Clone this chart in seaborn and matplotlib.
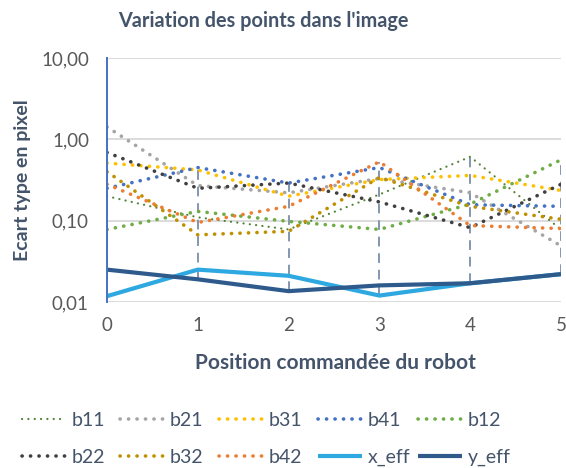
import numpy as np
import pandas as pd
import matplotlib
matplotlib.use("Agg")
import matplotlib.pyplot as plt
from matplotlib.lines import Line2D
from matplotlib.ticker import FixedLocator, FixedFormatter, NullLocator
import seaborn as sns

# Positions commandées du robot
positions = [0, 1, 2, 3, 4, 5]

# Ecart type (pixel) par point suivi
b11 = [0.20, 0.11, 0.078, 0.21, 0.61, 0.078]
b21 = [1.42, 0.27, 0.22, 0.33, 0.22, 0.049]
b31 = [0.51, 0.42, 0.20, 0.32, 0.36, 0.235]
b41 = [0.25, 0.45, 0.29, 0.45, 0.157, 0.15]
b12 = [0.078, 0.13, 0.098, 0.078, 0.16, 0.56]
b22 = [0.69, 0.25, 0.29, 0.17, 0.082, 0.28]
b32 = [0.40, 0.067, 0.074, 0.34, 0.15, 0.104]
b42 = [0.28, 0.095, 0.15, 0.53, 0.087, 0.08]
x_eff = [0.0118, 0.025, 0.021, 0.012, 0.017, 0.022]
y_eff = [0.025, 0.019, 0.0136, 0.016, 0.017, 0.022]

series_names = ["b11", "b21", "b31", "b41", "b12", "b22", "b32", "b42", "x_eff", "y_eff"]
series_values = [b11, b21, b31, b41, b12, b22, b32, b42, x_eff, y_eff]

y_ticks = [0.01, 0.1, 1, 10]
y_tick_labels = ["0,01", "0,10", "1,00", "10,00"]

title = "Variation des points dans l'image"
x_label = "Position commandée du robot"
y_label = "Ecart type en pixel"

df = pd.DataFrame(
    [(n, p, v) for n, vals in zip(series_names, series_values) for p, v in zip(positions, vals)],
    columns=["serie", "position", "ecart"],
)

sns.set_theme(style="white")
plt.rcParams["font.family"] = ["Lato", "DejaVu Sans"]

text_col = "#44546A"
tick_col = "#595959"

dot = dict(linewidth=2.6, linestyle=(0, (0.05, 2.3)), dash_capstyle="round")
small_dot = dict(linewidth=1.6, linestyle=(0, (0.05, 2.8)), dash_capstyle="round")
solid = dict(linewidth=3.0, linestyle="-", solid_capstyle="butt", solid_joinstyle="miter")

styles = {
    "b11": ("#548235", small_dot),
    "b21": ("#A5A5A5", dot),
    "b31": ("#FFC000", dot),
    "b41": ("#4472C4", dot),
    "b12": ("#70AD47", dot),
    "b22": ("#404040", dot),
    "b32": ("#BF9000", dot),
    "b42": ("#ED7D31", dot),
    "x_eff": ("#2EA8E0", solid),
    "y_eff": ("#2E5A8C", solid),
}

W, H = 566, 468
fig = plt.figure(figsize=(W / 100, H / 100), dpi=100)
ax = fig.add_axes([107 / W, 1 - 302 / H, (561 - 107) / W, (302 - 58) / H])

# Lignes haut-bas entre la plus grande et la plus petite valeur de chaque position
wide = df.pivot(index="position", columns="serie", values="ecart")
ax.vlines(wide.index, wide.min(axis=1), wide.max(axis=1), colors="#8497B0",
          linewidth=1.4, linestyles=(0, (5, 3.5)), zorder=1)

for name in series_names:
    color, kw = styles[name]
    sns.lineplot(data=df[df["serie"] == name], x="position", y="ecart", ax=ax,
                 color=color, legend=False, zorder=2, **kw)

ax.set_yscale("log")
ax.set_ylim(0.01, 10)
ax.set_xlim(0, 5)
ax.yaxis.set_major_locator(FixedLocator(y_ticks))
ax.yaxis.set_major_formatter(FixedFormatter(y_tick_labels))
ax.yaxis.set_minor_locator(NullLocator())
ax.set_xticks(positions)
ax.set_xticklabels([str(p) for p in positions])
ax.set_xlabel("")
ax.set_ylabel("")

for y in y_ticks:
    ax.axhline(y, color="#D9D9D9", linewidth=1.3, zorder=0)

for s in ["top", "right", "bottom"]:
    ax.spines[s].set_visible(False)
ax.spines["left"].set_color("#4472C4")
ax.spines["left"].set_linewidth(1.4)
ax.spines["left"].set_zorder(3)

ax.tick_params(axis="both", length=0, labelsize=13.5, labelcolor=tick_col)
ax.tick_params(axis="y", pad=13)
ax.tick_params(axis="x", pad=11)

# Titres
fig.text(263 / W, 1 - 21 / H, title, ha="center", va="center",
         fontsize=14.3, fontweight="bold", color=text_col)
fig.text(335 / W, 1 - 363 / H, x_label, ha="center", va="center",
         fontsize=15, fontweight="bold", color=text_col)
fig.text(23 / W, 1 - 180 / H, y_label, ha="center", va="center", rotation=90,
         fontsize=14, fontweight="bold", color=text_col)

# Légende : une colonne de deux entrées par groupe
handles = {}
for name in series_names:
    color, kw = styles[name]
    handles[name] = Line2D([], [], color=color, **kw)
row1 = ["b11", "b21", "b31", "b41", "b12"]
row2 = ["b22", "b32", "b42", "x_eff", "y_eff"]
col_x = [22, 120, 219, 318, 418]
for x0, n1, n2 in zip(col_x, row1, row2):
    leg = fig.legend([handles[n1], handles[n2]], [n1, n2],
                     loc="center left", bbox_to_anchor=(x0 / W, 1 - 439 / H),
                     frameon=False, fontsize=14, handlelength=2.25, handletextpad=0.3,
                     labelspacing=1.05, borderpad=0, borderaxespad=0)
    for t in leg.get_texts():
        t.set_color(text_col)

fig.savefig("out.png", dpi=100)
